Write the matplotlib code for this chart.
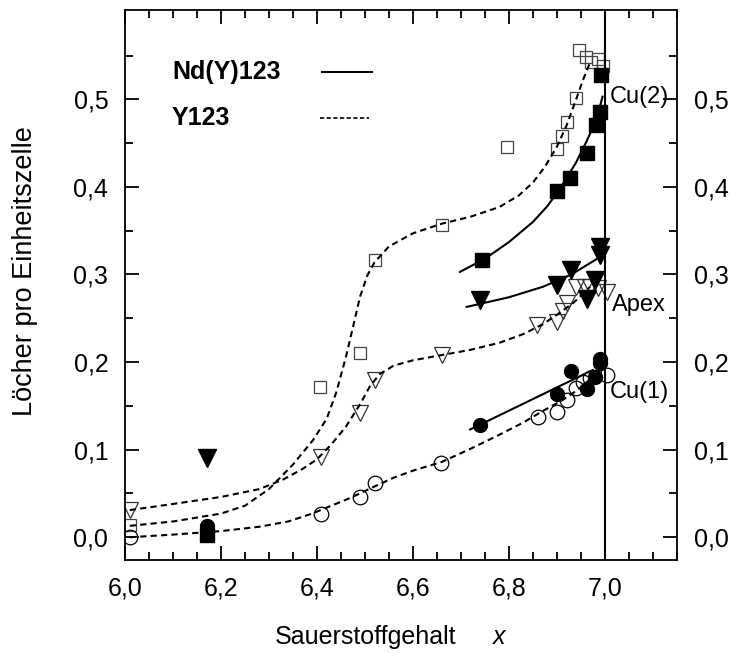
import matplotlib.pyplot as plt
import numpy as np
from matplotlib.ticker import FuncFormatter

plt.rcParams['font.family'] = ['Liberation Sans', 'DejaVu Sans']

# Nd(Y)123 (filled symbols, solid lines)
nd_cu2_x = [6.17, 6.744, 6.90, 6.927, 6.962, 6.981, 6.99, 6.992]
nd_cu2_y = [0.002, 0.317, 0.395, 0.41, 0.439, 0.471, 0.485, 0.528]
nd_apex_x = [6.17, 6.74, 6.90, 6.93, 6.962, 6.98, 6.99, 6.99]
nd_apex_y = [0.090, 0.271, 0.288, 0.305, 0.272, 0.294, 0.322, 0.331]
nd_cu1_x = [6.17, 6.74, 6.90, 6.93, 6.962, 6.98, 6.99, 6.99]
nd_cu1_y = [0.013, 0.128, 0.163, 0.190, 0.169, 0.183, 0.199, 0.204]

# Y123 (open symbols, dashed lines)
y_cu2_x = [6.01, 6.406, 6.49, 6.52, 6.66, 6.796, 6.90, 6.91, 6.92, 6.94,
           6.945, 6.96, 6.972, 6.985, 6.995]
y_cu2_y = [0.014, 0.172, 0.210, 0.317, 0.357, 0.446, 0.443, 0.458, 0.474, 0.502,
           0.556, 0.548, 0.543, 0.546, 0.538]
y_apex_x = [6.01, 6.408, 6.49, 6.52, 6.66, 6.858, 6.90, 6.913, 6.92, 6.94,
            6.958, 6.969, 6.985, 7.004]
y_apex_y = [0.031, 0.092, 0.142, 0.180, 0.208, 0.242, 0.246, 0.258, 0.268, 0.286,
            0.286, 0.286, 0.285, 0.280]
y_cu1_x = [6.01, 6.408, 6.49, 6.52, 6.658, 6.86, 6.90, 6.92, 6.94, 6.954,
           6.969, 7.004]
y_cu1_y = [0.0, 0.026, 0.046, 0.062, 0.085, 0.137, 0.143, 0.157, 0.170, 0.177,
           0.182, 0.185]

# guide curves
fit_y_cu2_x = [6.01, 6.1, 6.2, 6.25, 6.3, 6.35, 6.392, 6.42, 6.44, 6.46, 6.475,
               6.49, 6.505, 6.52, 6.55, 6.6, 6.66, 6.72, 6.78, 6.82, 6.85, 6.875,
               6.9, 6.92, 6.94, 6.955, 6.969]
fit_y_cu2_y = [0.013, 0.018, 0.027, 0.036, 0.055, 0.083, 0.111, 0.135, 0.165, 0.205,
               0.240, 0.275, 0.299, 0.314, 0.332, 0.347, 0.358, 0.366, 0.377, 0.390,
               0.405, 0.423, 0.446, 0.470, 0.500, 0.523, 0.542]
fit_y_apex_x = [6.01, 6.1, 6.2, 6.28, 6.33, 6.37, 6.40, 6.43, 6.46, 6.49, 6.51,
                6.53, 6.56, 6.6, 6.66, 6.72, 6.78, 6.83, 6.87, 6.90, 6.935, 6.969]
fit_y_apex_y = [0.031, 0.038, 0.046, 0.055, 0.066, 0.078, 0.089, 0.106, 0.126, 0.152,
                0.172, 0.186, 0.196, 0.202, 0.208, 0.214, 0.222, 0.232, 0.243, 0.254,
                0.268, 0.286]
fit_y_cu1_x = [6.01, 6.1, 6.2, 6.28, 6.34, 6.39, 6.43, 6.47, 6.52, 6.56, 6.6, 6.66,
               6.72, 6.78, 6.83, 6.87, 6.91, 6.945, 6.975]
fit_y_cu1_y = [0.0, 0.003, 0.007, 0.012, 0.018, 0.027, 0.036, 0.045, 0.058, 0.068,
               0.076, 0.086, 0.101, 0.117, 0.131, 0.144, 0.156, 0.169, 0.183]
fit_nd_cu2_x = [6.698, 6.75, 6.80, 6.85, 6.88, 6.90, 6.92, 6.94, 6.96, 6.975,
                6.985, 6.995]
fit_nd_cu2_y = [0.303, 0.318, 0.337, 0.360, 0.378, 0.393, 0.410, 0.428, 0.450, 0.468,
                0.482, 0.503]
fit_nd_apex_x = [6.712, 6.80, 6.871, 6.93, 6.99]
fit_nd_apex_y = [0.263, 0.274, 0.286, 0.300, 0.320]
fit_nd_cu1_x = [6.719, 6.975]
fit_nd_cu1_y = [0.123, 0.191]

fig = plt.figure(figsize=(7.31, 6.53), dpi=100)
ax = fig.add_axes([0.171, 0.1424, 0.755, 0.8423])

dash = (0, (3, 2))
for fx, fy in [(fit_y_cu2_x, fit_y_cu2_y), (fit_y_apex_x, fit_y_apex_y), (fit_y_cu1_x, fit_y_cu1_y)]:
    ax.plot(fx, fy, color='k', lw=1.5, linestyle=dash, zorder=3)
for fx, fy in [(fit_nd_cu2_x, fit_nd_cu2_y), (fit_nd_apex_x, fit_nd_apex_y), (fit_nd_cu1_x, fit_nd_cu1_y)]:
    ax.plot(fx, fy, color='k', lw=1.5, zorder=3)

ax.plot(y_cu2_x, y_cu2_y, 's', ms=9, mfc='none', mec='#444444', mew=0.9, zorder=2)
ax.plot(y_apex_x, y_apex_y, 'v', ms=12, mfc='none', mec='#333333', mew=0.9, zorder=2)
ax.plot(y_cu1_x, y_cu1_y, 'o', ms=10.5, mfc='none', mec='k', mew=0.9, zorder=2)
ax.plot(nd_cu2_x, nd_cu2_y, 's', ms=9.5, color='k', zorder=4)
ax.plot(nd_apex_x, nd_apex_y, 'v', ms=12.5, color='k', zorder=4)
ax.plot(nd_cu1_x, nd_cu1_y, 'o', ms=10, color='k', zorder=4)

ax.axvline(7.0, color='k', lw=1.5)

ax.set_xlim(6.0, 7.15)
ax.set_ylim(-0.026, 0.602)
ax.set_xticks(np.arange(6.0, 7.01, 0.2))
ax.set_xticks(np.arange(6.05, 7.16, 0.05), minor=True)
ax.set_yticks(np.arange(0.0, 0.51, 0.1))
ax.set_yticks(np.arange(0.05, 0.6, 0.05), minor=True)
fmt = FuncFormatter(lambda v, p: f"{v:.1f}".replace('.', ','))
ax.xaxis.set_major_formatter(fmt)
ax.yaxis.set_major_formatter(fmt)
ax.tick_params(which='both', direction='in', top=True, right=True,
               labelright=True, width=1.3, labelsize=18, pad=12)
ax.tick_params(which='major', length=10)
ax.tick_params(which='minor', length=6)
for s in ax.spines.values():
    s.set_linewidth(1.3)

fig.text(0.034, 0.585, 'Löcher pro Einheitszelle', rotation=90, fontsize=19.5,
         ha='center', va='center')
fig.text(275 / 731, 0.0245, 'Sauerstoffgehalt', fontsize=18, ha='left', va='center')
fig.text(493 / 731, 0.0245, 'x', fontsize=18, style='italic', ha='left', va='center')

ax.text(0.085, 0.887, 'Nd(Y)123', transform=ax.transAxes, fontsize=18,
        fontweight='bold', va='center')
ax.text(0.085, 0.804, 'Y123', transform=ax.transAxes, fontsize=18,
        fontweight='bold', va='center')
ax.plot([0.357, 0.447], [0.887, 0.887], color='k', lw=1.5, transform=ax.transAxes)
ax.plot([0.353, 0.443], [0.804, 0.804], color='k', lw=1.2, linestyle=(0, (2.5, 1.5)),
        transform=ax.transAxes)

ax.text(7.01, 0.503, 'Cu(2)', fontsize=17, va='center')
ax.text(7.015, 0.265, 'Apex', fontsize=17, va='center')
ax.text(7.01, 0.166, 'Cu(1)', fontsize=17, va='center')

fig.savefig('out.png', dpi=100)
